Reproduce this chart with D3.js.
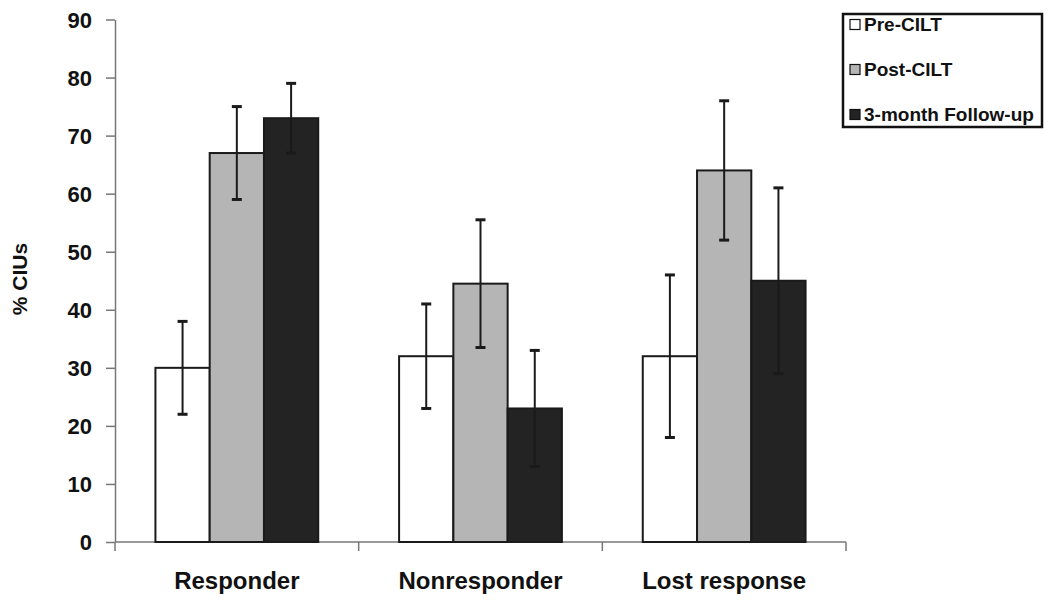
<!DOCTYPE html>
<html><head><meta charset="utf-8">
<script src="https://cdn.jsdelivr.net/npm/d3@7"></script>
<style>body{margin:0;background:#fff;} svg{display:block;font-family:Arial,"Liberation Sans",sans-serif;}</style>
</head><body>
<svg id="chart" width="1050" height="600"></svg>
<script>
const categories = ["Responder", "Nonresponder", "Lost response"];
const seriesNames = ["Pre-CILT", "Post-CILT", "3-month Follow-up"];
const preValues = [30, 32, 32];
const postValues = [67, 44.5, 64];
const followValues = [73, 23, 45];
const preErr = [8, 9, 14];
const postErr = [8, 11, 12];
const followErr = [6, 10, 16];
const yTicks = [0, 10, 20, 30, 40, 50, 60, 70, 80, 90];
const colors = ["#ffffff", "#b5b5b5", "#232323"];

(function () {
const values = [preValues, postValues, followValues];
const errs = [preErr, postErr, followErr];

const svg = d3.select("#chart");
const pLeft = 115, pRight = 846, pTop = 19.5, pBottom = 542;

const y = d3.scaleLinear().domain([0, 90]).range([pBottom, pTop]);
const x0 = d3.scaleBand().domain(categories).range([pLeft, pRight]).padding(0);
const x1 = d3.scaleBand().domain(seriesNames).range([0, x0.bandwidth()]).paddingInner(0).paddingOuter(0.745);

// y axis
const yAxis = d3.axisLeft(y).tickValues(yTicks).tickSize(9).tickPadding(14).tickSizeOuter(0);
const gy = svg.append("g").attr("transform", `translate(${pLeft},0)`).call(yAxis);
gy.select(".domain").attr("stroke", "#777").attr("stroke-width", 1.5);
gy.selectAll(".tick line").attr("stroke", "#777").attr("stroke-width", 1.5);
gy.selectAll(".tick text").attr("font-size", 22).attr("font-weight", "bold").attr("fill", "#111")
  .attr("font-family", "Arial, 'Liberation Sans', sans-serif").attr("dy", "0.36em");

// x axis
const xTickVals = [pLeft].concat(categories.map(c => x0(c) + x0.bandwidth()));
const gx = svg.append("g").attr("transform", `translate(0,${pBottom})`);
gx.append("line").attr("x1", pLeft).attr("x2", pRight).attr("y1", 0).attr("y2", 0).attr("stroke", "#777").attr("stroke-width", 1.5);
gx.selectAll("line.tk").data(xTickVals).join("line").attr("class", "tk")
  .attr("x1", d => d).attr("x2", d => d).attr("y1", 0).attr("y2", 9)
  .attr("stroke", "#777").attr("stroke-width", 1.5);
gx.selectAll("text").data(categories).join("text")
  .attr("x", d => x0(d) + x0.bandwidth() / 2).attr("y", 47)
  .attr("text-anchor", "middle").attr("font-size", 24).attr("font-weight", "bold").attr("fill", "#111")
  .text(d => d);

// bars
const groups = svg.append("g").selectAll("g").data(categories).join("g")
  .attr("transform", d => `translate(${x0(d)},0)`);
groups.each(function(cat, ci) {
  const g = d3.select(this);
  seriesNames.forEach((s, si) => {
    const v = values[si][ci];
    g.append("rect")
      .attr("x", x1(s)).attr("y", y(v))
      .attr("width", x1.bandwidth()).attr("height", pBottom - y(v))
      .attr("fill", colors[si]).attr("stroke", "#1a1a1a").attr("stroke-width", 2);
  });
  seriesNames.forEach((s, si) => {
    const v = values[si][ci], e = errs[si][ci];
    const cx = x1(s) + x1.bandwidth() / 2;
    g.append("line").attr("x1", cx).attr("x2", cx).attr("y1", y(v + e)).attr("y2", y(v - e))
      .attr("stroke", "#1a1a1a").attr("stroke-width", 2);
    [v + e, v - e].forEach(t => {
      g.append("line").attr("x1", cx - 5).attr("x2", cx + 5).attr("y1", y(t)).attr("y2", y(t))
        .attr("stroke", "#1a1a1a").attr("stroke-width", 3);
    });
  });
});

// y label
svg.append("text").attr("transform", "translate(27,279) rotate(-90)")
  .attr("text-anchor", "middle").attr("font-size", 21).attr("font-weight", "bold").attr("fill", "#111")
  .text("% CIUs");

// legend
const lg = svg.append("g");
lg.append("rect").attr("x", 843).attr("y", 14).attr("width", 199).attr("height", 113)
  .attr("fill", "#fff").attr("stroke", "#111").attr("stroke-width", 2.5);
const legY = d3.scalePoint().domain(seriesNames).range([24.5, 114.5]);
seriesNames.forEach((s, i) => {
  lg.append("rect").attr("x", 850).attr("y", legY(s) - 5).attr("width", 10).attr("height", 10)
    .attr("fill", colors[i]).attr("stroke", "#111").attr("stroke-width", 1.2);
  lg.append("text").attr("x", 864).attr("y", legY(s) + 6.5)
    .attr("font-size", 19).attr("font-weight", "bold").attr("fill", "#111").text(s);
});
})();
</script>
</body></html>
